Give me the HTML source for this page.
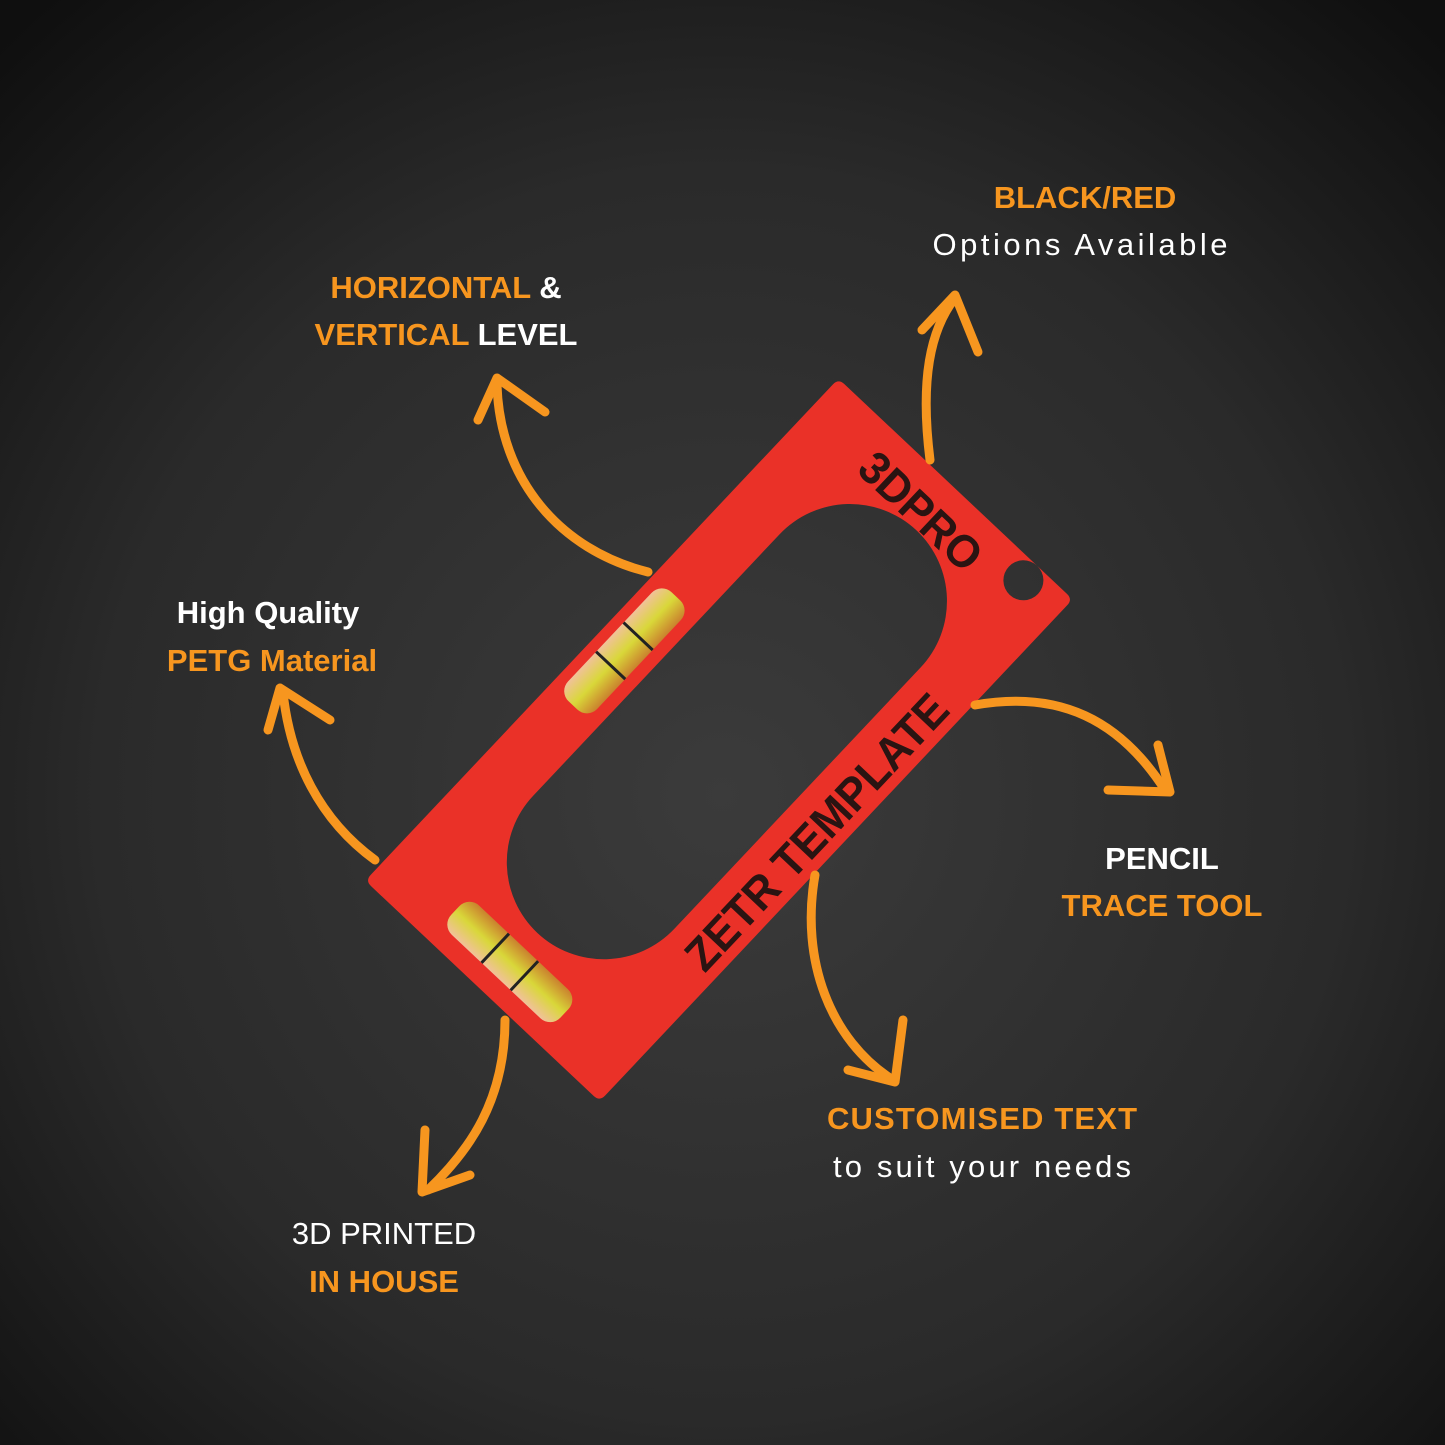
<!DOCTYPE html>
<html><head><meta charset="utf-8"><style>
html,body{margin:0;padding:0;width:1445px;height:1445px;overflow:hidden;background:#1a1a1a}
svg{display:block}
text{font-family:"Liberation Sans",sans-serif}
</style></head><body>
<svg width="1445" height="1445" viewBox="0 0 1445 1445" xmlns="http://www.w3.org/2000/svg">
<defs>
<radialGradient id="bg" cx="50%" cy="55%" r="72%">
<stop offset="0" stop-color="#3b3b3b"/><stop offset="0.6" stop-color="#2a2a2a"/><stop offset="1" stop-color="#0f0f0f"/>
</radialGradient>
<linearGradient id="vial" x1="0" y1="0" x2="0" y2="1">
<stop offset="0" stop-color="#f1c9a0"/><stop offset="0.5" stop-color="#d8e03a"/><stop offset="1" stop-color="#c8862e"/>
</linearGradient>
<linearGradient id="vial2" x1="0" y1="0" x2="1" y2="0">
<stop offset="0" stop-color="#f1c9a0"/><stop offset="0.5" stop-color="#d8e03a"/><stop offset="1" stop-color="#c8862e"/>
</linearGradient>
</defs>
<rect width="1445" height="1445" fill="url(#bg)"/>

<g transform="translate(719,740) rotate(-46.7)">
<path fill-rule="evenodd" fill="#ea3128" d="M-337,-161 H337 Q345,-161 345,-153 V153 Q345,161 337,161 H-337 Q-345,161 -345,153 V-153 Q-345,-161 -337,-161 Z
M-168,-97 H191 A97,97 0 0 1 191,97 H-168 A97,97 0 0 1 -168,-97 Z
M325,112 m-20,0 a20,20 0 1 0 40,0 a20,20 0 1 0 -40,0 Z"/>
<rect x="-75" y="-150" width="150" height="40" rx="14" fill="url(#vial)" opacity="0.95"/>
<line x1="-20" y1="-150" x2="-20" y2="-110" stroke="#222" stroke-width="3"/>
<line x1="20" y1="-150" x2="20" y2="-110" stroke="#222" stroke-width="3"/>
<rect x="-325" y="-75" width="40" height="150" rx="14" fill="url(#vial2)" opacity="0.95"/>
<line x1="-325" y1="-20" x2="-285" y2="-20" stroke="#222" stroke-width="3"/>
<line x1="-325" y1="20" x2="-285" y2="20" stroke="#222" stroke-width="3"/>
<text x="0" y="150" text-anchor="middle" font-size="46" font-weight="bold" fill="#2a1412" textLength="360" lengthAdjust="spacingAndGlyphs">ZETR TEMPLATE</text>
<g transform="translate(305,-10) rotate(90)">
<text x="0" y="16" text-anchor="middle" font-size="46" font-weight="bold" fill="#2a1412" textLength="150" lengthAdjust="spacingAndGlyphs">3DPRO</text>
</g>
</g>

<g fill="none" stroke="#f7961f" stroke-width="9" stroke-linecap="round" stroke-linejoin="round">
<path d="M648,572 C560,550 500,480 497,385"/><path d="M478,420 L497,378 L545,412"/>
<path d="M930,460 C920,380 930,330 955,298"/><path d="M922,330 L955,295 L978,352"/>
<path d="M975,705 C1060,690 1120,720 1165,790"/><path d="M1158,745 L1170,792 L1108,790"/>
<path d="M815,875 C800,960 830,1040 893,1080"/><path d="M848,1070 L895,1082 L903,1020"/>
<path d="M505,1020 C505,1100 470,1150 428,1190"/><path d="M425,1130 L422,1192 L470,1175"/>
<path d="M375,860 C320,820 290,760 283,692"/><path d="M268,730 L280,688 L330,720"/>
</g>

<g font-size="31" text-anchor="middle">
<text x="1085" y="208" font-weight="bold" fill="#f7961f">BLACK/RED</text>
<text x="1080" y="255" fill="#fff" textLength="295">Options Available</text>
<text x="446" y="298" font-weight="bold"><tspan fill="#f7961f">HORIZONTAL</tspan><tspan fill="#fff"> &amp;</tspan></text>
<text x="446" y="345" font-weight="bold"><tspan fill="#f7961f">VERTICAL</tspan><tspan fill="#fff"> LEVEL</tspan></text>
<text x="268" y="623" font-weight="bold" fill="#fff">High Quality</text>
<text x="272" y="671" font-weight="bold" fill="#f7961f">PETG Material</text>
<text x="1162" y="869" font-weight="bold" fill="#fff">PENCIL</text>
<text x="1162" y="916" font-weight="bold" fill="#f7961f">TRACE TOOL</text>
<text x="982" y="1129" font-weight="bold" fill="#f7961f" textLength="310">CUSTOMISED TEXT</text>
<text x="982" y="1177" fill="#fff" textLength="298">to suit your needs</text>
<text x="384" y="1244" fill="#fff">3D PRINTED</text>
<text x="384" y="1292" font-weight="bold" fill="#f7961f">IN HOUSE</text>
</g>
</svg>
</body></html>
